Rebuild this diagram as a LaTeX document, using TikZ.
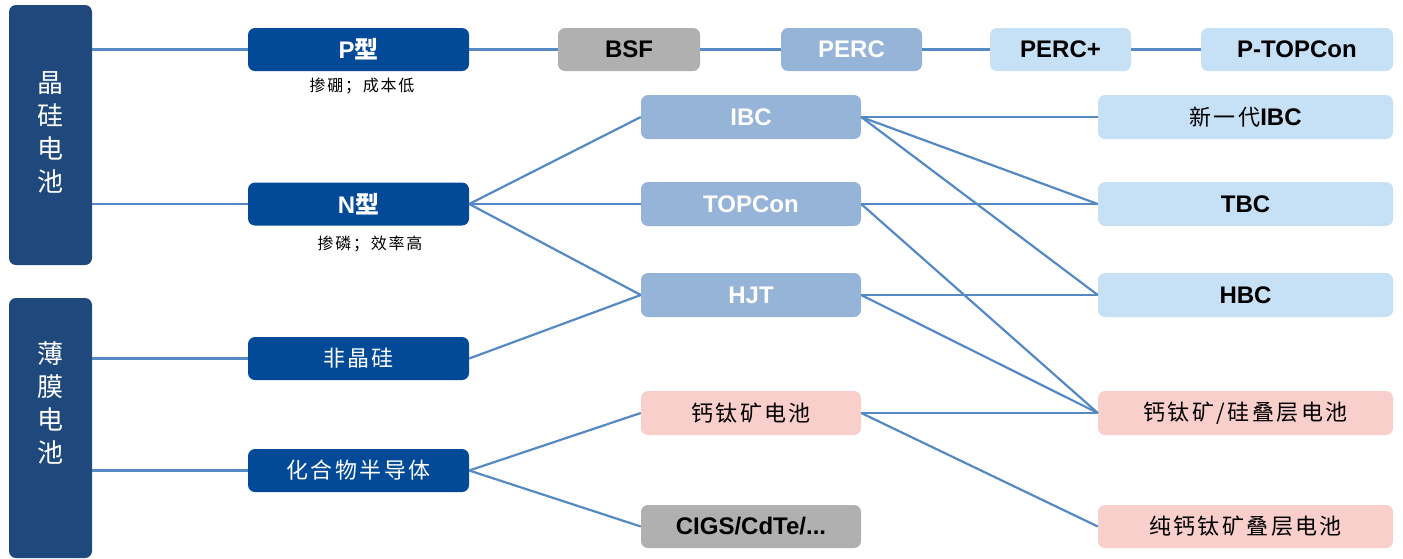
\documentclass[tikz,border=0pt]{standalone}
\usepackage{fontspec}
\setmainfont{Liberation Sans}
\newfontfamily\cjk{Noto Sans CJK SC}
\newfontfamily\cjksp[LetterSpace=11]{Noto Sans CJK SC}
\usetikzlibrary{positioning}

\definecolor{sideblue}{RGB}{31,73,125}
\definecolor{deepblue}{RGB}{2,74,152}
\definecolor{midblue}{RGB}{150,180,216}
\definecolor{paleblue}{RGB}{198,224,245}
\definecolor{palepink}{RGB}{249,207,204}
\definecolor{midgray}{RGB}{176,176,176}
\definecolor{linkblue}{RGB}{84,137,196}

\tikzset{
  box/.style={rounded corners=7pt,inner sep=0pt,minimum height=43pt,text=black,
    font=\fontsize{24}{27}\selectfont\bfseries},
  sidebox/.style={box,fill=sideblue,minimum width=83pt,minimum height=260pt},
  typebox/.style={box,fill=deepblue,text=white,minimum width=221pt},
  graybox/.style={box,fill=midgray},
  percbox/.style={box,fill=midblue,text=white},
  palebox/.style={box,fill=paleblue},
  pinkbox/.style={box,fill=palepink},
  kai/.style={font=\fontsize{22}{26}\cjksp},
  note/.style={font=\fontsize{16}{18}\cjksp,inner sep=0pt},
  sidetext/.style={text=white,align=center,font=\fontsize{26}{33}\cjk,inner sep=0pt},
  link/.style={draw=linkblue,line width=2.2pt}
}

\begin{document}
\begin{tikzpicture}[x=1pt,y=-1pt]
\useasboundingbox (0,0) rectangle (1403,558);
% left column
\node[sidebox] (crys) at (50.5,135) {};
\node[sidebox] (thin) at (50.5,428) {};
\node[sidetext] (crysname) at (50.5,132) {晶\\硅\\电\\池};
\node[sidetext] (thinname) at (50.5,403) {薄\\膜\\电\\池};

% second column
\node[typebox] (P) at (358.5,49.5) {P{\cjk 型}};
\node[typebox] (N) at (358.5,204) {N{\cjk 型}};
\node[typebox,kai,text=white] (asi) at (358.5,358.5) {非晶硅};
\node[typebox,kai,text=white] (comp) at (358.5,470.5) {化合物半导体};
\node[note] (pnote) at (362,86) {掺硼；成本低};
\node[note] (nnote) at (370,244) {掺磷；效率高};

% P line
\node[graybox,minimum width=142pt] (bsf) at (629,49.5) {BSF};
\node[percbox,minimum width=141pt] (perc) at (851.5,49.5) {PERC};
\node[palebox,minimum width=141pt] (percp) at (1060.5,49.5) {PERC+};
\node[palebox,minimum width=192pt] (ptop) at (1297,49.5) {P-TOPCon};

% third column
\node[percbox,minimum width=220pt,minimum height=44pt] (ibc) at (751,117) {IBC};
\node[percbox,minimum width=220pt,minimum height=44pt] (topcon) at (751,204) {TOPCon};
\node[percbox,minimum width=220pt,minimum height=44pt] (hjt) at (751,295) {HJT};
\node[pinkbox,kai,minimum width=220pt,minimum height=44pt] (pvk) at (751,413) {钙钛矿电池};
\node[graybox,minimum width=220pt] (cigs) at (751,526.5) {CIGS/CdTe/...};

% right column
\node[palebox,minimum width=295pt,minimum height=44pt] (nibc) at (1245.5,117) {{\fontsize{22}{26}\cjksp\mdseries 新一代}IBC};
\node[palebox,minimum width=295pt,minimum height=44pt] (tbc) at (1245.5,204) {TBC};
\node[palebox,minimum width=295pt,minimum height=44pt] (hbc) at (1245.5,295) {HBC};
\node[pinkbox,kai,minimum width=295pt,minimum height=44pt] (tandem) at (1245.5,413) {钙钛矿/硅叠层电池};
\node[pinkbox,kai,minimum width=295pt] (allpvk) at (1245.5,526.5) {纯钙钛矿叠层电池};

\path[link]
  (P.west) edge (P.west -| crys.east)
  (N.west) edge (N.west -| crys.east)
  (asi.west) edge (asi.west -| thin.east)
  (comp.west) edge (comp.west -| thin.east)
  (P) edge (bsf) (bsf) edge (perc) (perc) edge (percp) (percp) edge (ptop)
  (N.east) edge (ibc.west) edge (topcon.west) edge (hjt.west)
  (asi.east) edge (hjt.west)
  (comp.east) edge (pvk.west) edge (cigs.west)
  (ibc.east) edge (nibc.west) edge (tbc.west) edge (hbc.west)
  (topcon.east) edge (tbc.west) edge (tandem.west)
  (hjt.east) edge (hbc.west) edge (tandem.west)
  (pvk.east) edge (tandem.west) edge (allpvk.west);
\end{tikzpicture}
\end{document}
